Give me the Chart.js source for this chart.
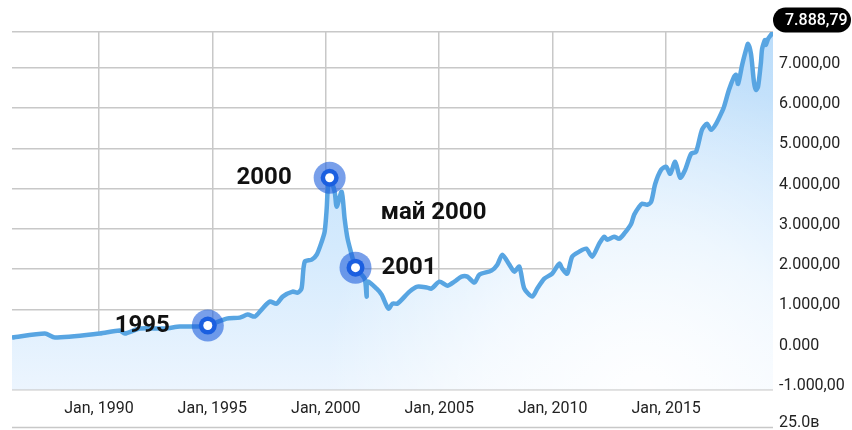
<!DOCTYPE html>
<html><head><meta charset="utf-8">
<script src="https://cdn.jsdelivr.net/npm/chart.js@4.4.1/dist/chart.umd.min.js"></script>
<style>html,body{margin:0;padding:0;background:#fff;overflow:hidden}#wrap{width:852px;height:430px;position:relative}</style>
</head><body><div id="wrap"><canvas id="c" width="852" height="430"></canvas></div>
<script>
// ---- data (decimal years, index values) ----
const years = [1986.17,1987.62,1988.06,1990.04,1990.92,1991.14,1991.80,1992.90,1993.57,1994.31,1994.80,
 1995.63,1996.21,1996.56,1996.87,1997.17,1997.53,1997.83,1998.10,1998.54,1998.76,1998.93,1999.07,1999.38,
 1999.60,1999.82,1999.95,2000.04,2000.08,2000.17,2000.39,2000.48,2000.70,2000.83,2000.96,2001.14,2001.31,
 2001.71,2001.80,2001.84,2002.24,2002.46,2002.76,2002.94,2003.16,2003.69,2004.04,2004.48,2004.66,2005.01,
 2005.36,2005.67,2005.98,2006.24,2006.55,2006.77,2007.30,2007.56,2007.78,2008.09,2008.31,2008.53,2008.75,
 2009.10,2009.32,2009.63,2009.98,2010.29,2010.42,2010.64,2010.86,2011.17,2011.48,2011.74,2012.05,2012.27,
 2012.40,2012.71,2012.93,2013.15,2013.46,2013.59,2013.81,2013.94,2014.16,2014.34,2014.52,2014.78,2015.00,
 2015.18,2015.40,2015.62,2015.84,2016.10,2016.32,2016.58,2016.80,2016.98,2017.20,2017.46,2017.55,2017.77,
 2017.99,2018.08,2018.17,2018.35,2018.52,2018.61,2018.74,2018.87,2018.96,2019.05,2019.18,2019.23,2019.36,
 2019.40,2019.49,2019.62,2019.71];
const values = [298,397,298,397,471,397,521,521,571,571,596,
 769,794,868,819,993,1191,1141,1315,1439,1414,1514,2184,2233,
 2357,2680,2928,3499,3921,4268,3921,3548,3921,3251,2754,2357,2035,
 1762,1315,1687,1514,1365,1017,1141,1141,1439,1563,1538,1514,1687,
 1588,1687,1811,1811,1663,1861,1960,2109,2357,2109,1935,2060,1514,
 1315,1514,1762,1886,2134,2010,1886,2308,2432,2506,2308,2630,2804,
 2729,2804,2754,2878,3127,3350,3548,3623,3598,3672,4119,4467,4541,
 4367,4665,4268,4467,4864,4913,5459,5608,5459,5608,5906,6030,6452,
 6774,6824,6600,7072,7444,7593,7345,6650,6452,6526,7146,7469,7692,
 7568,7717,7816,7888.79];

const markerYears = [1994.80, 2000.17, 2001.31];
const markerValues = [596, 4268, 2035];
const markerLabels = ['1995', '2000', '2001'];
const markerSides = ['left', 'left', 'right'];
const noteText = 'май 2000';
const noteYear = 2002.42;
const noteValue = 3400;
const xTickStep = 5;
const xTickPrefix = 'Jan, ';
const yTickStep = 1000;
const yMin = -1000;
const footLabel = '25.0в';

// ---- helpers ----
function fmt(v) {
  if (v === 0) return '0.000';
  const neg = v < 0; const a = Math.abs(v);
  const [ip, dp] = a.toFixed(2).split('.');
  const grp = ip.replace(/\B(?=(\d{3})+(?!\d))/g, '.');
  return (neg ? '-' : '') + grp + ',' + dp;
}
const yMax = Math.max(...values);
const xMin = years[0], xMax = years[years.length - 1];
const GRID = '#c8c8c8';
const FONT = 'Roboto';

let fillPattern = null, patternKey = '';
function areaFill(ctx) {
  const chart = ctx.chart, a = chart.chartArea;
  if (!a) return 'rgba(210,232,252,0.8)';
  const key = [a.left, a.top, a.right, a.bottom].join(',');
  if (fillPattern && patternKey === key) return fillPattern;
  const off = document.createElement('canvas');
  off.width = chart.width; off.height = chart.height;
  const o = off.getContext('2d');
  const v = o.createLinearGradient(0, a.top, 0, a.bottom);
  v.addColorStop(0, 'rgb(188,221,250)');
  v.addColorStop(0.6, 'rgb(212,234,253)');
  v.addColorStop(1, 'rgb(236,245,254)');
  o.fillStyle = v; o.fillRect(0, 0, off.width, off.height);
  const cx = a.left + (a.right - a.left) * 0.83, cy = a.bottom;
  const r = o.createRadialGradient(cx, cy, 0, cx, cy, 320);
  r.addColorStop(0, 'rgba(255,255,255,0.95)');
  r.addColorStop(0.5, 'rgba(255,255,255,0.6)');
  r.addColorStop(1, 'rgba(255,255,255,0)');
  o.fillStyle = r; o.fillRect(0, 0, off.width, off.height);
  fillPattern = chart.ctx.createPattern(off, 'no-repeat');
  patternKey = key;
  return fillPattern;
}

const extras = {
  id: 'extras',
  afterDatasetsDraw(chart) {
    const { ctx, scales: { x, y } } = chart;
    ctx.save();
    markerYears.forEach((yr, i) => {
      const px = x.getPixelForValue(yr), py = y.getPixelForValue(markerValues[i]);
      ctx.beginPath(); ctx.arc(px, py, 16, 0, Math.PI * 2); ctx.fillStyle = 'rgba(30,95,220,0.6)'; ctx.fill();
      ctx.beginPath(); ctx.arc(px, py, 9, 0, Math.PI * 2); ctx.fillStyle = '#1b5fe0'; ctx.fill();
      ctx.beginPath(); ctx.arc(px, py, 4.5, 0, Math.PI * 2); ctx.fillStyle = '#ffffff'; ctx.fill();
      ctx.font = 'bold 24px ' + FONT; ctx.fillStyle = '#111'; ctx.textBaseline = 'middle';
      if (markerSides[i] === 'left') { ctx.textAlign = 'right'; ctx.fillText(markerLabels[i], px - 38, py); }
      else { ctx.textAlign = 'left'; ctx.fillText(markerLabels[i], px + 26, py); }
    });
    ctx.font = 'bold 24px ' + FONT; ctx.fillStyle = '#111'; ctx.textAlign = 'left'; ctx.textBaseline = 'middle';
    ctx.fillText(noteText, x.getPixelForValue(noteYear), y.getPixelForValue(noteValue));
    ctx.restore();
  },
  afterDraw(chart) {
    const { ctx, chartArea: a, scales: { y } } = chart;
    ctx.save();
    const by = Math.min(Math.round(a.bottom + 39), chart.height - 3) + 0.5;
    ctx.strokeStyle = GRID; ctx.lineWidth = 1.5;
    ctx.beginPath(); ctx.moveTo(a.left, by); ctx.lineTo(a.right, by); ctx.stroke();
    ctx.font = '16px ' + FONT; ctx.fillStyle = '#222'; ctx.textAlign = 'left'; ctx.textBaseline = 'middle';
    ctx.fillText(footLabel, y.left + 6, by - 5);
    const ty = y.getPixelForValue(yMax) - 12;
    const bx = a.right, bw = 851 - a.right, bh = 25, r = 12.5;
    ctx.fillStyle = '#000';
    ctx.beginPath();
    ctx.roundRect(bx, ty - bh / 2, bw, bh, r);
    ctx.fill();
    ctx.fillStyle = '#fff'; ctx.font = '500 16px ' + FONT;
    ctx.fillText(fmt(yMax), bx + 12, ty + 1);
    ctx.restore();
  }
};

new Chart(document.getElementById('c'), {
  type: 'line',
  data: {
    datasets: [{
      data: years.map((yr, i) => ({ x: yr, y: values[i] })),
      borderColor: '#58a5e2',
      borderWidth: 4.5,
      pointRadius: 0,
      tension: 0.25,
      fill: 'start',
      backgroundColor: areaFill
    }]
  },
  options: {
    responsive: false,
    animation: false,
    devicePixelRatio: 1,
    layout: { padding: { left: 12, right: 0, top: 32, bottom: 1 } },
    plugins: { legend: { display: false }, tooltip: { enabled: false } },
    scales: {
      x: {
        type: 'linear', min: xMin, max: xMax,
        afterBuildTicks: (s) => {
          const t = [];
          for (let v = Math.ceil(xMin / xTickStep) * xTickStep; v <= xMax; v += xTickStep) t.push({ value: v });
          s.ticks = t;
        },
        grid: { color: GRID, lineWidth: 1.5, drawTicks: false },
        border: { display: false },
        ticks: { autoSkip: false, maxRotation: 0, padding: 10, color: '#222', font: { family: FONT, size: 16 },
          callback: (v) => xTickPrefix + v }
      },
      y: {
        position: 'right', min: yMin, max: yMax,
        afterBuildTicks: (s) => {
          const t = [];
          for (let v = yMin; v < yMax; v += yTickStep) t.push({ value: v });
          t.push({ value: yMax });
          s.ticks = t;
        },
        afterFit: (s) => { s.width = 79; },
        grid: { color: GRID, lineWidth: 1.5, drawTicks: false },
        border: { display: false },
        ticks: { padding: 6, labelOffset: -4, color: '#222', font: { family: FONT, size: 16 },
          callback: (v) => (v === yMax ? '' : fmt(v)) }
      }
    }
  },
  plugins: [extras]
});
</script></body></html>
